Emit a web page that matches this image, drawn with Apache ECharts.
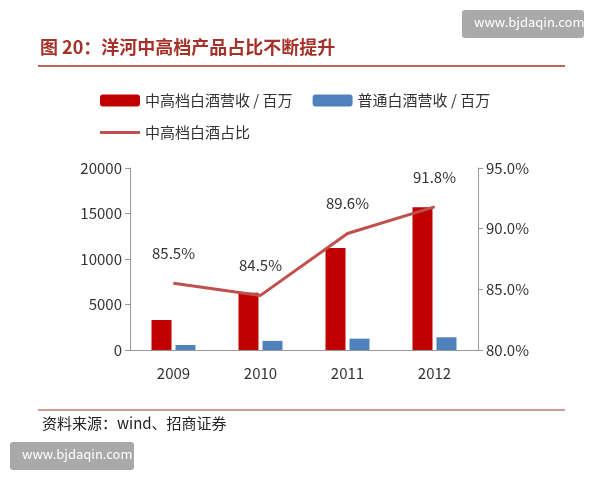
<!DOCTYPE html>
<html><head><meta charset="utf-8">
<script src="https://cdn.jsdelivr.net/npm/echarts@6/dist/echarts.min.js"></script>
<style>body{margin:0}#c{width:600px;height:480px}</style></head>
<body><div id="c"></div>
<script>
const categories=['2009','2010','2011','2012'];
const highEnd=[3300,6300,11200,15700];
const normal=[550,1000,1250,1400];
const ratio=[85.5,84.5,89.6,91.8];
const ratioLabels=['85.5%','84.5%','89.6%','91.8%'];
const font='"Noto Sans CJK SC", sans-serif';
const chart=echarts.init(document.getElementById('c'));
chart.setOption({
  animation:false,
  textStyle:{fontFamily:font},
  graphic:[
    {type:'text',left:40,top:38,style:{text:'图 20：洋河中高档产品占比不断提升',fill:'#a5322a',font:'bold 18px '+font}},
    {type:'line',shape:{x1:38,y1:66,x2:565,y2:66},style:{stroke:'#a5322a',lineWidth:1.5}},
    {type:'line',shape:{x1:38,y1:410,x2:565,y2:410},style:{stroke:'#a5322a',lineWidth:1}},
    {type:'text',left:42,top:416,style:{text:'资料来源：wind、招商证券',fill:'#222',font:'15px '+font}},
    {type:'rect',shape:{x:462,y:10,width:122,height:28,r:3},style:{fill:'#9a9a9a',opacity:0.85}},
    {type:'text',left:474,top:16,style:{text:'www.bjdaqin.com',fill:'#fff',font:'13px '+font}},
    {type:'rect',shape:{x:10,y:442,width:124,height:28,r:3},style:{fill:'#9a9a9a',opacity:0.85}},
    {type:'text',left:22,top:448,style:{text:'www.bjdaqin.com',fill:'#fff',font:'13px '+font}}
  ],
  legend:[
    {left:95,top:88,itemWidth:40,itemHeight:12,itemGap:20,textStyle:{fontSize:15,color:'#333'},
     data:['中高档白酒营收 / 百万','普通白酒营收 / 百万']},
    {left:95,top:120,itemWidth:40,textStyle:{fontSize:15,color:'#333'},
     data:[{name:'中高档白酒占比',icon:'path://M0,0L40,0L40,3L0,3Z'}]}
  ],
  grid:{left:130,right:122,top:168,bottom:130},
  xAxis:{type:'category',data:categories,axisTick:{show:false},
    axisLine:{lineStyle:{color:'#999'}},axisLabel:{fontSize:15,color:'#333',margin:16}},
  yAxis:[
    {type:'value',min:0,max:20000,interval:5000,splitLine:{show:false},
     axisLine:{show:true,lineStyle:{color:'#999'}},axisTick:{show:true},
     axisLabel:{fontSize:15,color:'#333',formatter:v=>String(v)}},
    {type:'value',min:80,max:95,interval:5,splitLine:{show:false},
     axisLine:{show:true,lineStyle:{color:'#999'}},axisTick:{show:true},
     axisLabel:{fontSize:15,color:'#333',formatter:v=>v.toFixed(1)+'%'}}
  ],
  series:[
    {name:'中高档白酒营收 / 百万',type:'bar',data:highEnd,barWidth:20,barGap:'20%',itemStyle:{color:'#c00000'}},
    {name:'普通白酒营收 / 百万',type:'bar',data:normal,barWidth:20,itemStyle:{color:'#4f81bd'}},
    {name:'中高档白酒占比',type:'line',yAxisIndex:1,data:ratio,symbol:'circle',symbolSize:1,showSymbol:true,
     lineStyle:{color:'#c0504d',width:3},itemStyle:{color:'#c0504d'},
     labelLayout:{hideOverlap:false},
     label:{show:true,position:'top',distance:22,fontSize:15,color:'#333',
       formatter:p=>ratioLabels[p.dataIndex]}}
  ]
});
</script></body></html>
